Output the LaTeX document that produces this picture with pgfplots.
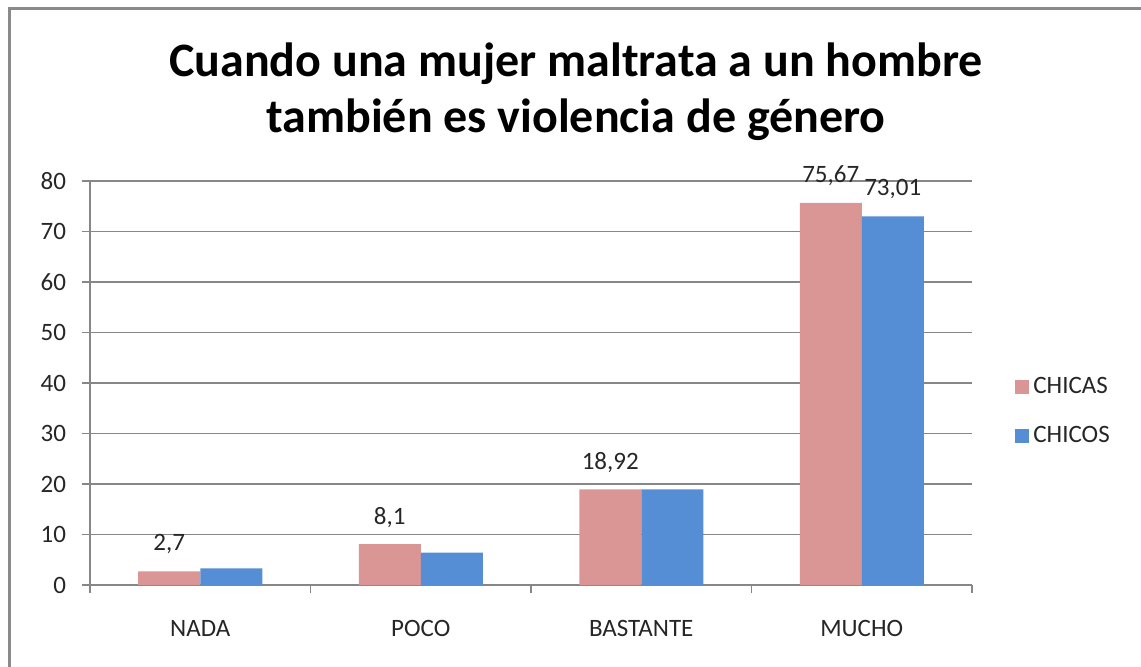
\documentclass[border=0pt]{standalone}
\usepackage{pgfplots}
\pgfplotsset{compat=1.18}
\usepackage{fontspec}
\setmainfont{Carlito}
\definecolor{chicas}{HTML}{D99694}
\definecolor{chicos}{HTML}{558ED5}
\definecolor{gridgray}{HTML}{878787}
\definecolor{framegray}{HTML}{8A8A8A}

\pgfplotsset{sqlegend/.style={legend image code/.code={\fill[##1] (0pt,-3.5pt) rectangle (7pt,3.5pt);}}}

\begin{document}
\begin{tikzpicture}
\useasboundingbox (0,0) rectangle (570.5pt,333pt);
\draw[framegray, line width=1.5pt] (4.5pt,-20pt) -- (4.5pt,328.5pt) -- (600pt,328.5pt);
\node[font=\bfseries\fontsize{24}{28}\selectfont, align=center] at (288pt,287pt)
  {Cuando una mujer maltrata a un hombre\\también es violencia de género};
\begin{axis}[
  at={(45pt,40.5pt)}, anchor=south west,
  scale only axis, width=441pt, height=202pt,
  ybar=0pt, bar width=31pt,
  xmin=-0.5, xmax=3.5, ymin=0, ymax=80,
  xtick={0,1,2,3}, xticklabels={NADA,POCO,BASTANTE,MUCHO},
  major x tick style={draw=none},
  minor xtick={-0.5,0.5,1.5,2.5,3.5},
  ytick={0,10,...,80},
  ymajorgrids, grid style={gridgray, line width=0.75pt},
  axis x line*=bottom, axis y line*=left,
  axis line style={gridgray, line width=0.75pt},
  tick style={gridgray, line width=0.75pt},
  tick align=outside, major tick length=4pt, minor tick length=4pt,
  /pgf/number format/assume math mode=true,
  ticklabel style={font=\fontsize{12.5}{15}\selectfont, text=black!85},
  xticklabel style={yshift=-10pt},
  yticklabel style={xshift=-4.5pt},
  clip=false,
  point meta=explicit symbolic,
  nodes near coords,
  nodes near coords align={center},
  every node near coord/.append style={yshift=13.5pt, font=\fontsize{12.5}{15}\selectfont, text=black!85},
  legend style={draw=none, fill=none, at={(axis description cs:1,0.43)}, anchor=west,
    xshift=18.5pt, row sep=11pt, font=\fontsize{12.5}{15}\selectfont, text=black!85},
  legend cell align=left,
]
\addplot[fill=chicas, draw=none, sqlegend] table[x=x, y=y, meta=lab] {
x y lab
0 2.7 2,7
1 8.1 8,1
2 18.92 18,92
3 75.67 75,67
};
\addplot[fill=chicos, draw=none, sqlegend] table[x=x, y=y, meta=lab] {
x y lab
0 3.3 {}
1 6.4 {}
2 18.92 {}
3 73.01 73,01
};
\legend{CHICAS,CHICOS}
\end{axis}
\end{tikzpicture}
\end{document}
